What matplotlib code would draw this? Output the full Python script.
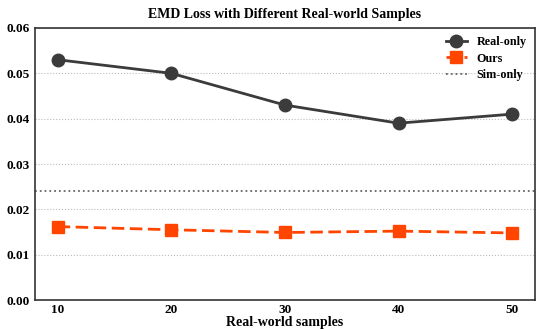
import matplotlib.pyplot as plt

samples = [10, 20, 30, 40, 50]
real_only = [0.053, 0.050, 0.043, 0.039, 0.041]
ours = [0.0162, 0.0155, 0.0149, 0.0152, 0.0148]
sim_only = 0.024

plt.rcParams['font.family'] = ['Liberation Serif', 'DejaVu Serif']
plt.rcParams['font.weight'] = 'bold'

fig = plt.figure(figsize=(5.37, 3.29), dpi=100)
ax = fig.add_axes([0.065, 0.088, 0.931, 0.827])

ax.plot(samples, real_only, color='#3b3b3b', marker='o', markersize=9,
        linewidth=2, label='Real-only')
ax.plot(samples, ours, color='#ff4500', marker='s', markersize=8,
        linewidth=2, linestyle='--', dashes=(4.5, 2), label='Ours')
ax.axhline(sim_only, color='#666666', linestyle=':', linewidth=1.3, label='Sim-only')

ax.set_xlim(8, 52)
ax.set_ylim(0, 0.06)
ax.set_xticks(samples)
ax.set_yticks([0.0, 0.01, 0.02, 0.03, 0.04, 0.05, 0.06])
ax.yaxis.grid(True, linestyle=':', color='#bbbbbb', linewidth=0.8)
ax.set_axisbelow(True)
ax.tick_params(labelsize=9.5, length=0, pad=4)
ax.tick_params(axis='x', pad=3)
for lbl in ax.get_xticklabels() + ax.get_yticklabels():
    lbl.set_fontweight('bold')
for s in ax.spines.values():
    s.set_color('#333333')
    s.set_linewidth(1.2)

ax.set_title('EMD Loss with Different Real-world Samples', fontsize=10,
             fontweight='bold', pad=7)
ax.set_xlabel('Real-world samples', fontsize=10, fontweight='bold', labelpad=0)
ax.legend(loc='upper right', frameon=False, handlelength=1.7,
          prop={'weight': 'bold', 'size': 8.7}, borderaxespad=0.3,
          labelspacing=0.35)

fig.savefig('out.png', dpi=100)
